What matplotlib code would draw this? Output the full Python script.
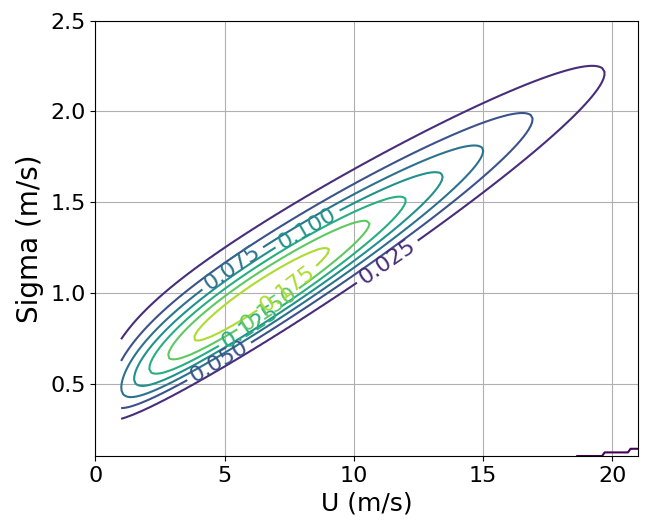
import numpy as np
import matplotlib
matplotlib.use("Agg")
import matplotlib.pyplot as plt

# wind speed U ~ Weibull(k, A)
weibull_k = 1.8
weibull_a = 10.0

# sigma | U ~ lognormal, IEC normal turbulence model
i_ref = 0.12
ntm_slope = 0.75
ntm_offset = 3.8   # m/s
ntm_std = 1.4      # m/s

# where the contour labels sit (approx. U, sigma) for each labelled level
label_levels = [0.025, 0.050, 0.075, 0.100, 0.125, 0.150, 0.175]
label_u = [11.4, 4.8, 5.3, 8.2, 5.8, 6.6, 7.4]
label_s = [1.15, 0.62, 1.13, 1.35, 0.85, 0.93, 1.03]

# grid the density is evaluated on
u = np.linspace(1, 21, 201)
s = np.linspace(0.1, 2.5, 121)
U, S = np.meshgrid(u, s)

f_u = (weibull_k / weibull_a) * (U / weibull_a) ** (weibull_k - 1) * np.exp(-(U / weibull_a) ** weibull_k)

sig_mean = i_ref * (ntm_slope * U + ntm_offset)
sig_std = i_ref * ntm_std
v2 = np.log(1 + (sig_std / sig_mean) ** 2)
mu = np.log(sig_mean) - v2 / 2
f_s = np.exp(-(np.log(S) - mu) ** 2 / (2 * v2)) / (S * np.sqrt(2 * np.pi * v2))

Z = f_u * f_s

fig, ax = plt.subplots(figsize=(6.48, 5.2), dpi=100)
fig.subplots_adjust(left=0.147, right=0.985, top=0.96, bottom=0.123)

cs = ax.contour(U, S, Z, cmap="viridis", linewidths=1.5)

ax.set_xlim(0, 21)
ax.set_xticks([0, 5, 10, 15, 20])
ax.set_yticks([0.5, 1.0, 1.5, 2.0, 2.5])
ax.grid(True)
ax.tick_params(labelsize=16)
ax.set_xlabel("U (m/s)", fontsize=18)
ax.set_ylabel("Sigma (m/s)", fontsize=20)

# snap each label spot onto its own contour level
spots = []
for lev, lu, ls in zip(label_levels, label_u, label_s):
    i = int(np.argmin(np.abs(cs.levels - lev)))
    pts = np.vstack(cs.allsegs[i])
    d = (pts[:, 0] - lu) ** 2 + (7.0 * (pts[:, 1] - ls)) ** 2
    spots.append(tuple(pts[np.argmin(d)]))
ax.clabel(cs, inline=True, fontsize=16, manual=spots)

fig.savefig("out.png")
